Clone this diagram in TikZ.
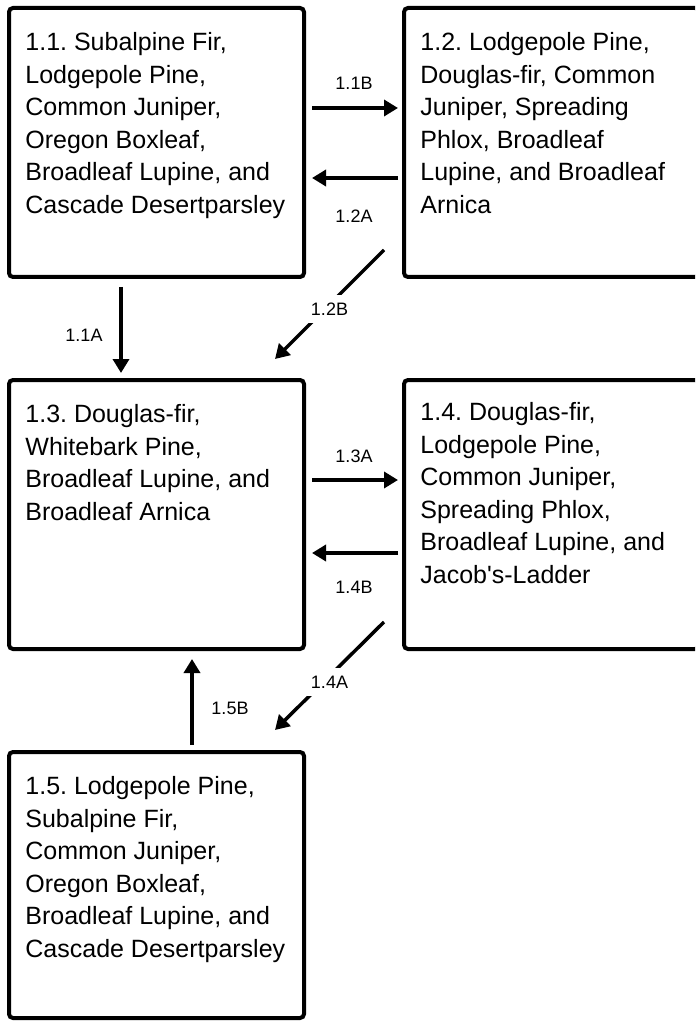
\documentclass[tikz,border=0pt]{standalone}
\usepackage{fontspec}
\setmainfont{Liberation Sans}
\usetikzlibrary{arrows.meta}
\frenchspacing

\begin{document}
\begin{tikzpicture}[
  x=0.5pt,y=-0.5pt,
  box/.style={draw,line width=2pt,rounded corners=2pt,minimum width=147.5pt,
    minimum height=134.5pt,inner sep=0pt,outer sep=0pt},
  txt/.style={anchor=north west,align=left,inner sep=0pt,
    font=\fontsize{12.5pt}{16.25pt}\selectfont},
  lbl/.style={font=\fontsize{9pt}{10pt}\selectfont,inner sep=0pt},
  arr/.style={-{Triangle[length=7pt,width=8pt]},line width=1.75pt}
]
\useasboundingbox (0,0) rectangle (695,1021);
\clip (0,0) rectangle (695,1021);

\node[box] (b11) at (156.5,142.5) {};
\node[box] (b12) at (551.5,142.5) {};
\node[box] (b13) at (156.5,514.5) {};
\node[box] (b14) at (551.5,514.5) {};
\node[box,minimum height=133pt] (b15) at (156.5,885) {};

\node[txt] (t11) at ([shift={(16,24)}]b11.north west)
  {1.1. Subalpine Fir,\\Lodgepole Pine,\\Common Juniper,\\Oregon Boxleaf,\\Broadleaf Lupine, and\\Cascade Desertparsley};
\node[txt] (t12) at ([shift={(16,24)}]b12.north west)
  {1.2. Lodgepole Pine,\\Douglas-fir, Common\\Juniper, Spreading\\Phlox, Broadleaf\\Lupine, and Broadleaf\\Arnica};
\node[txt] (t13) at ([shift={(16,24)}]b13.north west)
  {1.3. Douglas-fir,\\Whitebark Pine,\\Broadleaf Lupine, and\\Broadleaf Arnica};
\node[txt] (t14) at ([shift={(16,22)}]b14.north west)
  {1.4. Douglas-fir,\\Lodgepole Pine,\\Common Juniper,\\Spreading Phlox,\\Broadleaf Lupine, and\\Jacob\textquotesingle s-Ladder};
\node[txt] (t15) at ([shift={(16,24)}]b15.north west)
  {1.5. Lodgepole Pine,\\Subalpine Fir,\\Common Juniper,\\Oregon Boxleaf,\\Broadleaf Lupine, and\\Cascade Desertparsley};

% top row
\draw[arr,shorten <=4pt,shorten >=3pt] ([yshift=17.25pt]b11.east)
  -- node[lbl,yshift=12.5pt] (l11b) {1.1B} ([yshift=17.25pt]b12.west);
\draw[arr,shorten <=3pt,shorten >=4pt] ([yshift=-17.75pt]b12.west)
  -- node[lbl,yshift=-19pt] (l12a) {1.2A} ([yshift=-17.75pt]b11.east);
\draw[arr,shorten <=5pt,shorten >=3.5pt] ([xshift=-17.75pt]b11.south)
  -- node[lbl,xshift=-18.5pt,yshift=-3.25pt] (l11a) {1.1A} ([xshift=-17.75pt]b13.north);
\draw[arr] ([shift={(-20,-27)}]b12.south west)
  -- node[lbl,fill=white,inner sep=4pt,yshift=-2.25pt] (l12b) {1.2B} ([shift={(-29,-21)}]b13.north east);

% middle row
\draw[arr,shorten <=4pt,shorten >=3pt] ([yshift=17.25pt]b13.east)
  -- node[lbl,yshift=12pt] (l13a) {1.3A} ([yshift=17.25pt]b14.west);
\draw[arr,shorten <=3pt,shorten >=4pt] ([yshift=-19.25pt]b14.west)
  -- node[lbl,yshift=-17pt] (l14b) {1.4B} ([yshift=-19.25pt]b13.east);
\draw[arr] ([shift={(-20,-27)}]b14.south west)
  -- node[lbl,fill=white,inner sep=4pt,yshift=-3pt] (l14a) {1.4A} ([shift={(-29,-22)}]b15.north east);
\draw[arr,shorten <=3.5pt,shorten >=5pt] ([xshift=17.75pt]b15.north)
  -- node[lbl,xshift=19pt,yshift=-3.75pt] (l15b) {1.5B} ([xshift=17.75pt]b13.south);
\end{tikzpicture}
\end{document}
